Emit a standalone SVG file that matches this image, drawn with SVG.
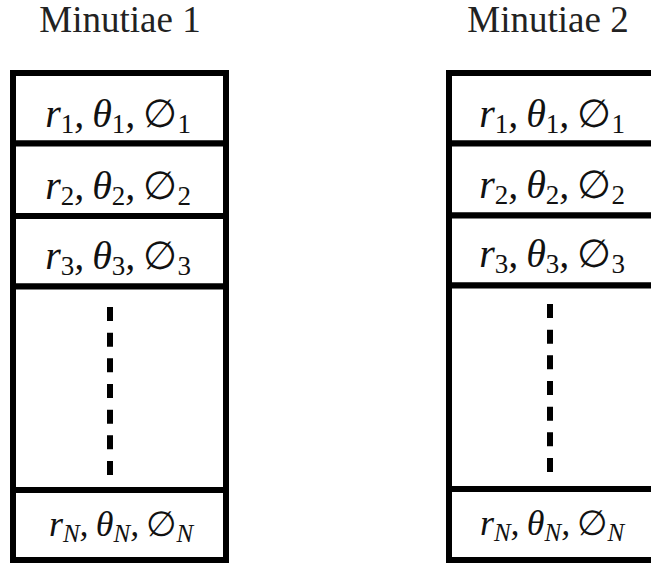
<svg xmlns="http://www.w3.org/2000/svg" width="651" height="563" viewBox="0 0 651 563">
<style>
.title{font-family:"Liberation Serif","Times New Roman",serif;font-size:37px;fill:#222}
.cell{fill:#fff;stroke:#000;stroke-width:6}
.m{font-family:"Liberation Serif","DejaVu Serif",serif;font-style:italic;font-size:40px;fill:#111}
.s{font-style:normal;font-size:27px}
.n{font-style:italic;font-size:25px}
.e{font-style:normal;font-family:"DejaVu Serif",serif;font-size:39px}
.dots{stroke:#000;stroke-width:6;stroke-dasharray:14 11.67;fill:none}
</style>
<rect width="651" height="563" fill="#fff"/>
<g id="col1">
<text class="title" x="120" y="32" text-anchor="middle">Minutiae 1</text>
<g id="c1r1"><rect class="cell" x="13" y="73" width="213" height="70.5"/>
<text class="m" x="118" y="127" text-anchor="middle">r<tspan class="s" dy="6">1</tspan><tspan dy="-6">,&#8201;θ</tspan><tspan class="s" dy="6">1</tspan><tspan dy="-6">,&#8201;</tspan><tspan class="e">∅</tspan><tspan class="s" dy="6">1</tspan></text></g>
<g id="c1r2"><rect class="cell" x="13" y="143.5" width="213" height="72.5"/>
<text class="m" x="118" y="199" text-anchor="middle">r<tspan class="s" dy="6">2</tspan><tspan dy="-6">,&#8201;θ</tspan><tspan class="s" dy="6">2</tspan><tspan dy="-6">,&#8201;</tspan><tspan class="e">∅</tspan><tspan class="s" dy="6">2</tspan></text></g>
<g id="c1r3"><rect class="cell" x="13" y="216" width="213" height="70.5"/>
<text class="m" x="118" y="269" text-anchor="middle">r<tspan class="s" dy="6">3</tspan><tspan dy="-6">,&#8201;θ</tspan><tspan class="s" dy="6">3</tspan><tspan dy="-6">,&#8201;</tspan><tspan class="e">∅</tspan><tspan class="s" dy="6">3</tspan></text></g>
<g id="c1dots"><rect class="cell" x="13" y="286.5" width="213" height="203.5"/>
<line class="dots" x1="110" y1="307" x2="110" y2="475"/></g>
<g id="c1rN"><rect class="cell" x="13" y="490" width="213" height="70"/>
<text class="m" x="121" y="536" text-anchor="middle" style="font-size:36px">r<tspan class="n" dy="6">N</tspan><tspan dy="-6">,&#8201;θ</tspan><tspan class="n" dy="6">N</tspan><tspan dy="-6">,&#8201;</tspan><tspan class="e" style="font-size:35px">∅</tspan><tspan class="n" dy="6">N</tspan></text></g>
</g>
<g id="col2">
<text class="title" x="548" y="32" text-anchor="middle">Minutiae 2</text>
<g id="c2r1"><rect class="cell" x="449" y="73" width="213" height="70.5"/>
<text class="m" x="552" y="127" text-anchor="middle">r<tspan class="s" dy="6">1</tspan><tspan dy="-6">,&#8201;θ</tspan><tspan class="s" dy="6">1</tspan><tspan dy="-6">,&#8201;</tspan><tspan class="e">∅</tspan><tspan class="s" dy="6">1</tspan></text></g>
<g id="c2r2"><rect class="cell" x="449" y="143.5" width="213" height="72"/>
<text class="m" x="552" y="198" text-anchor="middle">r<tspan class="s" dy="6">2</tspan><tspan dy="-6">,&#8201;θ</tspan><tspan class="s" dy="6">2</tspan><tspan dy="-6">,&#8201;</tspan><tspan class="e">∅</tspan><tspan class="s" dy="6">2</tspan></text></g>
<g id="c2r3"><rect class="cell" x="449" y="215.5" width="213" height="70"/>
<text class="m" x="552" y="267" text-anchor="middle">r<tspan class="s" dy="6">3</tspan><tspan dy="-6">,&#8201;θ</tspan><tspan class="s" dy="6">3</tspan><tspan dy="-6">,&#8201;</tspan><tspan class="e">∅</tspan><tspan class="s" dy="6">3</tspan></text></g>
<g id="c2dots"><rect class="cell" x="449" y="285.5" width="213" height="203.5"/>
<line class="dots" x1="550" y1="304" x2="550" y2="472"/></g>
<g id="c2rN"><rect class="cell" x="449" y="489" width="213" height="71"/>
<text class="m" x="552" y="535" text-anchor="middle" style="font-size:36px">r<tspan class="n" dy="6">N</tspan><tspan dy="-6">,&#8201;θ</tspan><tspan class="n" dy="6">N</tspan><tspan dy="-6">,&#8201;</tspan><tspan class="e" style="font-size:35px">∅</tspan><tspan class="n" dy="6">N</tspan></text></g>
</g>
<g id="connectors"></g>
</svg>
